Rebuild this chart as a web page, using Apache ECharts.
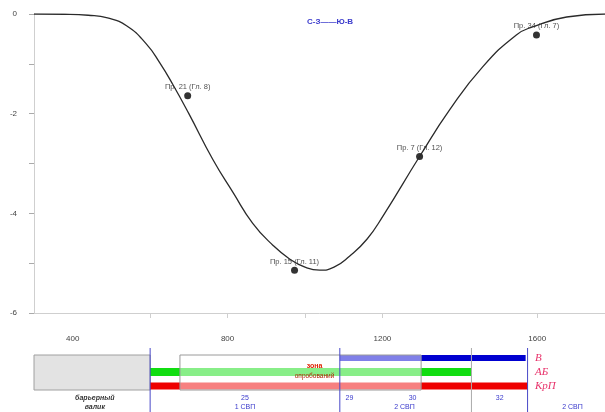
<!DOCTYPE html>
<html>
<head>
<meta charset="utf-8">
<script src="https://cdn.jsdelivr.net/npm/echarts@6/dist/echarts.min.js"></script>
<style>
html, body { margin: 0; padding: 0; background: #fff; }
#chart { width: 605px; height: 412px; }
</style>
</head>
<body>
<div id="chart"></div>
<script>
// profile curve (distance, settlement)
const profileX = [300, 380, 440, 490, 540, 590, 625, 659, 700, 762, 814, 865, 917, 961, 1000, 1038, 1075, 1115, 1160, 1201, 1296, 1374, 1459, 1546, 1588, 1676, 1775];
const profileY = [0, -0.005, -0.025, -0.08, -0.24, -0.6, -0.98, -1.42, -2.0, -2.92, -3.58, -4.2, -4.64, -4.92, -5.08, -5.14, -5.08, -4.86, -4.52, -4.06, -2.86, -1.92, -1.06, -0.42, -0.26, -0.06, 0];

// measured points
const pointNames = ['Пр. 21 (Гл. 8)', 'Пр. 15 (Гл. 11)', 'Пр. 7 (Гл. 12)', 'Пр. 34 (Гл. 7)'];
const pointX = [697, 973, 1296, 1598];
const pointY = [-1.64, -5.14, -2.86, -0.42];

const xLabels = [400, 800, 1200, 1600];
const xTicks = [600, 800, 1000, 1200, 1600];

// lower panel
const rows = ['В', 'АБ', 'КрП'];
const rowStart = [1090, 600, 600];
const rowEnd = [1570, 1430, 1575];
const barrier = [300, 600];
const zone = [677, 1300];
const boundaries = [600, 1090, 1575];
const midLines = [1430];
const pickets = ['25', '29', '30', '32'];
const picketX = [845, 1115, 1278, 1503];
const stations = ['1 СВП', '2 СВП', '2 СВП'];
const stationX = [845, 1257, 1691];
const barrierText = ['барьерный', 'валик'];

const rowColors = ['#0000d0', '#11dd11', '#ee0000'];
const rowThick = [6, 8, 7];
const font = 'Liberation Sans, Arial, sans-serif';

const chart = echarts.init(document.getElementById('chart'));

function textAt(x, y, text, style) {
  return { type: 'text', x: x, y: y, style: Object.assign({ text: text, align: 'center', verticalAlign: 'middle', font: '7px ' + font }, style) };
}

// text rows under the panel
const notes = [];
pickets.forEach((p, i) => notes.push({ x: picketX[i], line: 0, text: p, dark: false }));
stations.forEach((s, i) => notes.push({ x: stationX[i], line: 1, text: s, dark: false }));
barrierText.forEach((s, i) => notes.push({ x: (barrier[0] + barrier[1]) / 2 + 7, line: i, text: s, dark: true }));

chart.setOption({
  animation: false,
  title: {
    text: 'С-З——Ю-В',
    left: 302, top: 13,
    textStyle: { fontSize: 8, fontWeight: 'bold', color: '#3a3acc', fontFamily: font }
  },
  grid: [
    { left: 34, right: 0, top: 14, height: 299, outerBoundsMode: 'none' },
    { left: 34, right: 0, top: 351, height: 42, outerBoundsMode: 'none' }
  ],
  xAxis: [
    {
      type: 'value', gridIndex: 0, min: 300, max: 1775,
      axisLine: { onZero: false, lineStyle: { color: '#cfcfcf' } },
      axisTick: { customValues: xTicks, length: 5, lineStyle: { color: '#cfcfcf' } },
      axisLabel: { customValues: xLabels, formatter: v => String(v), margin: 22, fontSize: 8, color: '#444', fontFamily: font },
      splitLine: { show: false }
    },
    { type: 'value', gridIndex: 1, min: 300, max: 1775, show: false }
  ],
  yAxis: [
    {
      type: 'value', gridIndex: 0, min: -6, max: 0, interval: 1,
      axisLine: { show: true, onZero: false, lineStyle: { color: '#cfcfcf' } },
      axisTick: { show: true, length: 5, lineStyle: { color: '#aaa' } },
      axisLabel: {
        margin: 17, fontSize: 8, color: '#444', fontFamily: font,
        formatter: v => (v % 2 === 0 ? String(v) : '')
      },
      splitLine: { show: false }
    },
    {
      type: 'category', gridIndex: 1, data: rows, inverse: true,
      position: 'right', offset: -72,
      axisLine: { show: false }, axisTick: { show: false },
      axisLabel: {
        interval: 0, align: 'left', margin: 2, fontSize: 11, fontStyle: 'italic',
        fontFamily: 'Liberation Serif, serif', color: '#e8336b'
      }
    }
  ],
  series: [
    {
      type: 'line', xAxisIndex: 0, yAxisIndex: 0,
      data: profileX.map((x, i) => [x, profileY[i]]),
      smooth: 0.5, showSymbol: false,
      lineStyle: { color: '#2a2a2a', width: 1.3 }
    },
    {
      type: 'scatter', xAxisIndex: 0, yAxisIndex: 0,
      data: pointX.map((x, i) => ({ value: [x, pointY[i]], name: pointNames[i] })),
      symbolSize: 7,
      itemStyle: { color: '#000' },
      label: {
        show: true, position: 'top', distance: 1, formatter: p => p.name,
        fontSize: 7.5, color: '#222', fontFamily: font
      }
    },
    // barrier bank
    {
      type: 'custom', xAxisIndex: 1, yAxisIndex: 1, z: 2,
      data: [barrier],
      renderItem(params, api) {
        const a = api.coord([api.value(0), 0]);
        const b = api.coord([api.value(1), 2]);
        return {
          type: 'rect',
          shape: { x: a[0], y: a[1] - 3, width: b[0] - a[0], height: b[1] - a[1] + 7 },
          style: { fill: '#e3e3e3', stroke: '#a0a0a0', lineWidth: 1 }
        };
      }
    },
    // row bars
    {
      type: 'custom', xAxisIndex: 1, yAxisIndex: 1, z: 3,
      data: rows.map((r, i) => [rowStart[i], rowEnd[i], i]),
      encode: { x: [0, 1], y: 2 },
      renderItem(params, api) {
        const i = params.dataIndex;
        const a = api.coord([api.value(0), i]);
        const b = api.coord([api.value(1), i]);
        const h = rowThick[i];
        return {
          type: 'rect',
          shape: { x: a[0], y: a[1] - h / 2, width: b[0] - a[0], height: h },
          style: { fill: rowColors[i] }
        };
      }
    },
    // zone overlay
    {
      type: 'custom', xAxisIndex: 1, yAxisIndex: 1, z: 4,
      data: [zone],
      renderItem(params, api) {
        const a = api.coord([api.value(0), 0]);
        const b = api.coord([api.value(1), 2]);
        const y0 = a[1] - 3, y1 = b[1] + 4;
        const cx = (a[0] + b[0]) / 2 + 14;
        return {
          type: 'group',
          children: [
            {
              type: 'rect',
              shape: { x: a[0], y: y0, width: b[0] - a[0], height: y1 - y0 },
              style: { fill: 'rgba(255,255,255,0.5)', stroke: '#9a9a9a', lineWidth: 1 }
            },
            textAt(cx, a[1] + 8, 'зона', { fill: '#dd2200', font: 'bold 7px ' + font }),
            textAt(cx, a[1] + 18, 'опробований', { fill: '#b02000', font: '6.5px ' + font })
          ]
        };
      }
    },
    // divider lines
    {
      type: 'custom', xAxisIndex: 1, yAxisIndex: 1, z: 5,
      data: boundaries.map(v => [v, 0]).concat(midLines.map(v => [v, 1])),
      renderItem(params, api) {
        const cs = params.coordSys;
        const x = api.coord([api.value(0), 0])[0];
        return {
          type: 'line',
          shape: { x1: x, y1: cs.y - 3, x2: x, y2: cs.y + cs.height + 19 },
          style: { stroke: api.value(1) ? '#aaaaaa' : '#4848c8', lineWidth: 1 }
        };
      }
    },
    // labels under the panel
    {
      type: 'custom', xAxisIndex: 1, yAxisIndex: 1, z: 6,
      data: notes.map(n => [n.x, 0]),
      renderItem(params, api) {
        const cs = params.coordSys;
        const n = notes[params.dataIndex];
        const x = api.coord([api.value(0), 0])[0];
        return textAt(x, cs.y + cs.height + 5 + n.line * 9, n.text, {
          fill: n.dark ? '#333' : '#3a3acc',
          font: (n.dark ? 'italic bold ' : '') + '7px ' + font
        });
      }
    }
  ]
});
</script>
</body>
</html>
